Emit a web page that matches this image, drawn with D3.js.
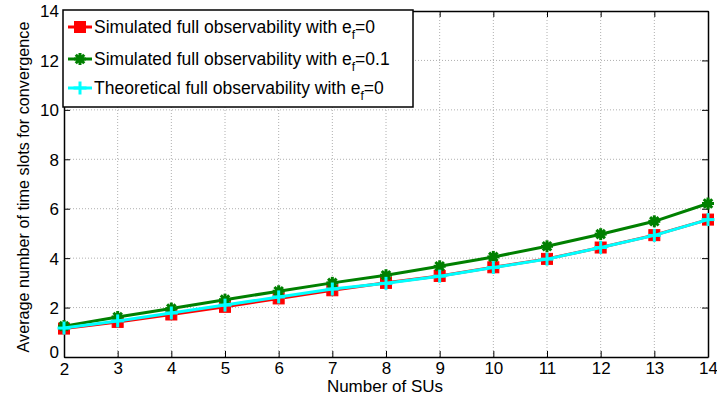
<!DOCTYPE html>
<html>
<head>
<meta charset="utf-8">
<script src="https://cdn.jsdelivr.net/npm/d3@7"></script>
<style>
  html, body { margin: 0; padding: 0; background: #fff; }
  svg { display: block; font-family: "Liberation Sans", Arial, Helvetica, sans-serif; }
</style>
</head>
<body>
<svg id="chart" width="717" height="397"></svg>
<script>
// Number of secondary users (SUs)
const numSUs = [2, 3, 4, 5, 6, 7, 8, 9, 10, 11, 12, 13, 14];
// Average time slots needed to converge
const simulatedEf0 = [1.15, 1.42, 1.72, 2.03, 2.37, 2.70, 3.00, 3.28, 3.63, 3.97, 4.43, 4.93, 5.56];
const simulatedEf01 = [1.25, 1.62, 1.96, 2.32, 2.66, 3.00, 3.31, 3.67, 4.05, 4.48, 4.97, 5.49, 6.21];
const theoreticalEf0 = [1.17, 1.46, 1.78, 2.10, 2.43, 2.75, 2.98, 3.27, 3.62, 3.96, 4.43, 4.92, 5.56];
const xTicks = [2, 3, 4, 5, 6, 7, 8, 9, 10, 11, 12, 13, 14];
const yTicks = [0, 2, 4, 6, 8, 10, 12, 14];

const svg = d3.select("#chart");
const L = 64, R = 708, T = 11, B = 357;

const x = d3.scaleLinear().domain([2, 14]).range([L, R]);
const y = d3.scaleLinear().domain([0, 14]).range([B, T]);

// dotted grid
const grid = svg.append("g").attr("stroke", "#b0b0b0").attr("stroke-width", 1)
  .attr("stroke-dasharray", "1,2");
grid.selectAll(".vg").data(xTicks.slice(1, -1)).join("line")
  .attr("x1", d => x(d)).attr("x2", d => x(d)).attr("y1", T).attr("y2", B);
grid.selectAll(".hg").data(yTicks.slice(1, -1)).join("line")
  .attr("x1", L).attr("x2", R).attr("y1", d => y(d)).attr("y2", d => y(d));

// axes with inward ticks
const fontSize = 17;
const axB = svg.append("g").attr("transform", `translate(0,${B})`)
  .call(d3.axisBottom(x).tickValues(xTicks).tickSize(-6).tickPadding(5).tickSizeOuter(0));
const axT = svg.append("g").attr("transform", `translate(0,${T})`)
  .call(d3.axisTop(x).tickValues(xTicks).tickSize(-6).tickFormat("").tickSizeOuter(0));
const axL = svg.append("g").attr("transform", `translate(${L},0)`)
  .call(d3.axisLeft(y).tickValues(yTicks).tickSize(-6).tickPadding(5).tickSizeOuter(0));
const axR = svg.append("g").attr("transform", `translate(${R},0)`)
  .call(d3.axisRight(y).tickValues(yTicks).tickSize(-6).tickFormat("").tickSizeOuter(0));
[axB, axT, axL, axR].forEach(a => {
  a.select(".domain").attr("stroke", "#000").attr("stroke-width", 1.5);
  a.selectAll(".tick line").attr("stroke", "#000");
  a.selectAll("text").attr("font-size", fontSize).attr("fill", "#000")
    .attr("font-family", "'Liberation Sans', Arial, sans-serif");
});
axL.selectAll("text").attr("dy", "0.35em");
axL.selectAll(".tick").filter(d => d === 0).select("text").attr("dy", "0.05em");
axB.selectAll("text").attr("dy", "0.7em");
axB.selectAll(".tick").filter(d => d === 2).select("text").attr("dy", "0.75em");

// axis titles
svg.append("text").attr("x", 385).attr("y", 392).attr("text-anchor", "middle")
  .attr("font-size", fontSize).text("Number of SUs");
svg.append("text").attr("transform", `translate(29,187) rotate(-90)`)
  .attr("text-anchor", "middle").attr("font-size", 16.2)
  .text("Average number of time slots for convergence");

const series = [
  { name: "Simulated full observability with e", sub: "f", tail: "=0", values: simulatedEf0, color: "#ff0000", marker: "square" },
  { name: "Simulated full observability with e", sub: "f", tail: "=0.1", values: simulatedEf01, color: "#008000", marker: "star" },
  { name: "Theoretical full observability with e", sub: "f", tail: "=0", values: theoreticalEf0, color: "#00ffff", marker: "plus" }
];

const line = d3.line().x(d => x(d[0])).y(d => y(d[1]));

function drawMarker(g, type, color) {
  if (type === "square") {
    g.append("rect").attr("x", -5.5).attr("y", -5.5).attr("width", 11).attr("height", 11)
      .attr("fill", color).attr("stroke", color);
  } else if (type === "star") {
    const r = 6;
    [0, 45, 90, 135].forEach(a => {
      const rad = a * Math.PI / 180;
      g.append("line").attr("x1", -r * Math.cos(rad)).attr("y1", -r * Math.sin(rad))
        .attr("x2", r * Math.cos(rad)).attr("y2", r * Math.sin(rad))
        .attr("stroke", color).attr("stroke-width", 3);
    });
    g.append("circle").attr("r", 4).attr("fill", color);
  } else {
    const r = 6.5;
    g.append("line").attr("x1", -r).attr("x2", r).attr("y1", 0).attr("y2", 0)
      .attr("stroke", color).attr("stroke-width", 3);
    g.append("line").attr("x1", 0).attr("x2", 0).attr("y1", -r).attr("y2", r)
      .attr("stroke", color).attr("stroke-width", 3);
  }
}

series.forEach(s => {
  const pts = numSUs.map((n, i) => [n, s.values[i]]);
  svg.append("path").datum(pts).attr("d", line).attr("fill", "none")
    .attr("stroke", s.color).attr("stroke-width", 3);
  pts.forEach(p => {
    const g = svg.append("g").attr("transform", `translate(${x(p[0])},${y(p[1])})`);
    drawMarker(g, s.marker, s.color);
  });
});

// legend
const lg = svg.append("g");
lg.append("rect").attr("x", 63).attr("y", 10).attr("width", 350).attr("height", 97)
  .attr("fill", "#fff").attr("stroke", "#000").attr("stroke-width", 1.5);
const rowsY = [27, 59, 88];
series.forEach((s, i) => {
  const cy = rowsY[i];
  lg.append("line").attr("x1", 68).attr("x2", 92).attr("y1", cy).attr("y2", cy)
    .attr("stroke", s.color).attr("stroke-width", 3);
  const g = lg.append("g").attr("transform", `translate(80,${cy})`);
  drawMarker(g, s.marker, s.color);
  const t = lg.append("text").attr("x", 94).attr("y", cy + 5.5).attr("font-size", 17.5);
  t.append("tspan").text(s.name);
  t.append("tspan").attr("font-size", 12).attr("dy", 6).text(s.sub);
  t.append("tspan").attr("dy", -6).text(s.tail);
});
</script>
</body>
</html>
